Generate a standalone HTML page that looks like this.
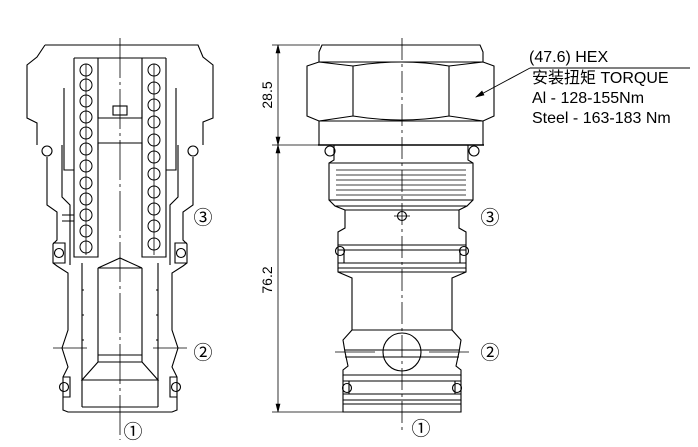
<!DOCTYPE html>
<html><head><meta charset="utf-8"><style>
html,body{margin:0;padding:0;background:#fff;}
svg{display:block;}
text{font-family:"Liberation Sans","Noto Sans CJK SC",sans-serif;fill:#000;}
</style></head><body>
<svg width="698" height="447" viewBox="0 0 698 447" xmlns="http://www.w3.org/2000/svg">
<g fill="none" stroke="#000" stroke-width="1.1">
<path d="M45,45 L198,45 L203,57 L213,65 L213,118 L203,122 L203,145 M45,45 L37,57 L27,65 L27,118 L37,123 L37,145"/>
<circle cx="47" cy="151" r="5"/><circle cx="193" cy="151" r="5"/>
<path d="M47,157 L47,205 L57,212 L57,240 L53,244 L53,263 L57,266 L68,273 L68,330 L62,348 L68,367 L63,377 L63,397 L63,410 L68,412 L172,412 L177,410 L177,397 L177,377 L172,367 L178,348 L172,330 L172,273 L183,266 L187,263 L187,244 L183,240 L183,212 L193,205 L193,157"/>
<path d="M53,243 L65,243 L65,263 L53,263 M187,243 L175,243 L175,263 L187,263"/>
<circle cx="59" cy="253" r="4.5"/><circle cx="181" cy="253" r="4.5"/>
<path d="M63,377 L70,377 L70,397 L63,397 M177,377 L170,377 L170,397 L177,397"/>
<circle cx="64" cy="387" r="4.5"/><circle cx="176" cy="387" r="4.5"/>
<path d="M62,145 L62,197 L70,205 L70,265 M178,145 L178,197 L170,205 L170,265"/>
<path d="M64,88 L64,170 L74,170 M176,88 L176,170 L166,170 M74,58 L166,58 M74,58 L74,257 L98,257 L98,58 M166,58 L166,257 L142,257 L142,58"/>
<path d="M98,110 L98,118 L142,118 L142,110 M98,150 L98,143 L142,143 L142,150"/>
<rect x="113" y="106" width="14" height="9"/>
<path d="M62,215 L74,215 M62,221 L74,221"/>
<path d="M98,268 L120,258 L142,268 Z M98,268 L98,355 L142,355 L142,268 M98,355 L98,362 L142,362 L142,355 M98,362 L82,380 L158,380 L142,362"/>
<path d="M82,263 L82,407 M158,263 L158,407 M82,407 L158,407"/>
<path d="M82,290 l2,0 M82,315 l2,0 M82,340 l2,0 M158,290 l-2,0 M158,315 l-2,0 M158,340 l-2,0"/>
<g stroke-width="1">
<circle cx="86" cy="70" r="6"/><circle cx="86" cy="85" r="6"/><circle cx="86" cy="101" r="6"/><circle cx="86" cy="117" r="6"/><circle cx="86" cy="133" r="6"/><circle cx="86" cy="149" r="6"/><circle cx="86" cy="166" r="6"/><circle cx="86" cy="183" r="6"/><circle cx="86" cy="199" r="6"/><circle cx="86" cy="215" r="6"/><circle cx="86" cy="231" r="6"/><circle cx="86" cy="247" r="6"/>
<circle cx="154" cy="70" r="6"/><circle cx="154" cy="88" r="6"/><circle cx="154" cy="105" r="6"/><circle cx="154" cy="122" r="6"/><circle cx="154" cy="140" r="6"/><circle cx="154" cy="157" r="6"/><circle cx="154" cy="174" r="6"/><circle cx="154" cy="192" r="6"/><circle cx="154" cy="209" r="6"/><circle cx="154" cy="226" r="6"/><circle cx="154" cy="244" r="6"/>
</g>
<path d="M86,64 L86,255 M154,64 L154,255" stroke-width="0.8"/>
<path d="M120,38 L120,440" stroke-width="0.8" stroke-dasharray="40,4,3,4"/>
<path d="M53,348 L87,348 M153,348 L187,348" stroke-width="0.8"/>

<path d="M322,45 L480,45 L483,52 L483,62 L319,62 L319,52 Z"/>
<path d="M319,62 L307,66 L307,116 L319,121 L483,121 L494,116 L494,66 L483,62 M353,66 L353,116 M449,66 L449,116 M307,66 L319,62 M353,66 Q401,58 449,66 M353,116 Q401,124 449,116 M319,62 L353,66 M483,62 L449,66 M319,121 L353,116 M483,121 L449,116"/>
<path d="M319,121 L319,145 L483,145 L483,121"/>
<path d="M318,145 L484,145" stroke-width="1.6"/>
<circle cx="330" cy="151" r="5"/><circle cx="474" cy="151" r="5"/>
<path d="M334,145 L334,160 L329,163 L329,200 L335,206 L345,210 L345,228 L338,232 L338,245 L466,245 L466,232 L459,228 L459,210 L467,206 L473,200 L473,163 L468,160 L468,145"/>
<path d="M329,163 L473,163 M329,200 L473,200 M335,206 L467,206 M345,210 L459,210"/>
<path d="M336,170 L466,170 M336,175 L466,175 M336,180 L466,180 M336,185 L466,185 M336,190 L466,190 M336,195 L466,195" stroke-width="0.8"/>
<circle cx="402" cy="216" r="4.5"/><path d="M394,216 L410,216" stroke-width="0.8"/>
<path d="M338,245 L338,268 L466,268 L466,245 M338,250 L466,250 M338,263 L466,263 M344,250 L344,263 M460,250 L460,263"/>
<circle cx="340" cy="251" r="4.5"/><circle cx="464" cy="251" r="4.5"/>
<path d="M338,268 L338,272 L352,278 L352,330 L343,340 L345,352 L348,366 L343,370 L343,375 L461,375 L461,370 L456,366 L459,352 L461,340 L452,330 L452,278 L466,272 L466,268 M338,272 L466,272 M352,330 L452,330 M345,350 L459,350 M345,357 L459,357"/>
<circle cx="402" cy="352" r="19"/>
<path d="M343,375 L343,400 L461,400 L461,375 M343,381 L461,381 M343,394 L461,394 M349,381 L349,394 M455,381 L455,394"/>
<circle cx="347" cy="388" r="4.5"/><circle cx="457" cy="388" r="4.5"/>
<path d="M343,400 L343,412 L461,412 L461,400 M343,404 L461,404"/>
<path d="M335,352 L375,352 M429,352 L469,352" stroke-width="0.8"/>
<path d="M402,38 L402,430" stroke-width="0.8" stroke-dasharray="22,4,3,4"/>
<path d="M278,45 L278,412 M272,45 L320,45 M272,145 L320,145 M272,412 L343,412" stroke-width="0.8"/>
<path d="M278,45 l-2,8 l4,0 Z M278,145 l-2,-8 l4,0 Z M278,145 l-2,8 l4,0 Z M278,412 l-2,-8 l4,0 Z" fill="#000" stroke-width="0.6"/>
<path d="M530,68 L690,68 M530,68 L476,97" stroke-width="0.9"/>
<path d="M476,97 l8,-2 l-2,-4 Z" fill="#000" stroke-width="0.6"/>
</g>
<text x="272" y="95" font-size="14" transform="rotate(-90 272 95)" text-anchor="middle">28.5</text>
<text x="272" y="280" font-size="14" transform="rotate(-90 272 280)" text-anchor="middle">76.2</text>
<text x="529" y="62" font-size="16">(47.6) HEX</text>
<text x="532" y="83" font-size="16">安装扭矩 TORQUE</text>
<text x="532" y="103" font-size="16">Al - 128-155Nm</text>
<text x="532" y="123" font-size="16">Steel - 163-183 Nm</text>
<g font-size="19" text-anchor="middle">
<text x="203" y="224">③</text><text x="203" y="359">②</text><text x="133" y="438">①</text>
<text x="490" y="224">③</text><text x="490" y="359">②</text><text x="421" y="435">①</text>
</g>
</svg>
</body></html>
